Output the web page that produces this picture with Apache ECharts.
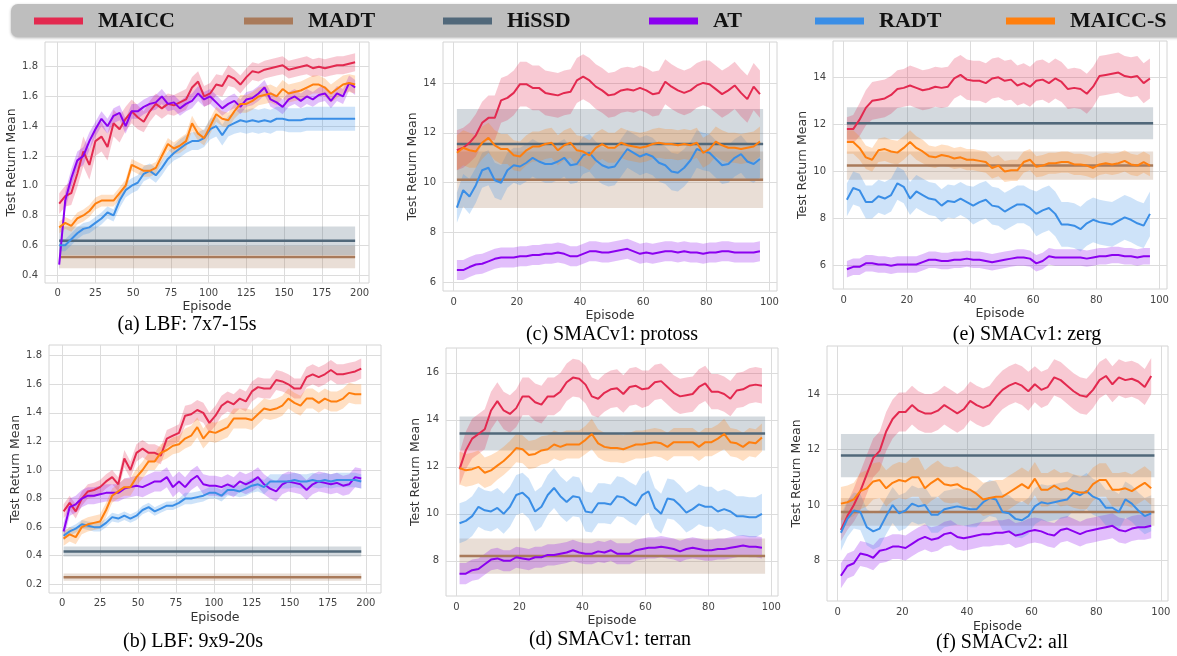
<!DOCTYPE html>
<html>
<head>
<meta charset="utf-8">
<title>MAICC offline results</title>
<script src="https://cdn.jsdelivr.net/npm/echarts@6/dist/echarts.min.js"></script>
<style>
  html, body { margin: 0; padding: 0; background: #fff; }
  #chart { width: 1177px; height: 656px; }
</style>
</head>
<body>
<div id="chart"></div>
<script>
// ---- episodes (x values) ----
const lbfEpisodes = [1, 5, 9, 13, 17, 21, 25, 29, 33, 37,
  41, 45, 49, 53, 57, 61, 65, 69, 73, 77,
  81, 85, 89, 93, 97, 101, 105, 109, 113, 117,
  121, 125, 129, 133, 137, 141, 145, 149, 153, 157,
  161, 165, 169, 173, 177, 181, 185, 189, 193, 197];
const smacEpisodes = [1, 3, 5, 7, 9, 11, 13, 15, 17, 19,
  21, 23, 25, 27, 29, 31, 33, 35, 37, 39,
  41, 43, 45, 47, 49, 51, 53, 55, 57, 59,
  61, 63, 65, 67, 69, 71, 73, 75, 77, 79,
  81, 83, 85, 87, 89, 91, 93, 95, 97];

// ---- tick labels ----
const lbfXTicks = [0, 25, 50, 75, 100, 125, 150, 175, 200];
const smacXTicks = [0, 20, 40, 60, 80, 100];
const lbf7YTicks = [0.4, 0.6, 0.8, 1.0, 1.2, 1.4, 1.6, 1.8];
const lbf9YTicks = [0.2, 0.4, 0.6, 0.8, 1.0, 1.2, 1.4, 1.6, 1.8];
const protossYTicks = [6, 8, 10, 12, 14];
const terranYTicks = [8, 10, 12, 14, 16];
const zergYTicks = [6, 8, 10, 12, 14];
const v2YTicks = [8, 10, 12, 14];

// ---- offline baselines (mean, half band) per panel a..f ----
const madtMean = [0.52, 0.25, 10.12, 8.2, 10.25, 9.75];
const madtSpread = [0.075, 0.025, 1.13, 0.75, 0.6, 0.5];
const hissdMean = [0.63, 0.43, 11.55, 13.42, 12.05, 11.78];
const hissdSpread = [0.095, 0.035, 1.4, 0.72, 0.68, 0.78];
const lbfSpan = [1, 197];
const smacSpan = [1, 98];

// ---- (a) LBF 7x7-15s ----
const lbf7Maicc = [0.88, 0.93, 0.95, 1.08, 1.23, 1.14, 1.30, 1.33, 1.26, 1.42,
  1.38, 1.45, 1.50, 1.46, 1.43, 1.50, 1.55, 1.52, 1.55, 1.54,
  1.56, 1.58, 1.66, 1.70, 1.60, 1.62, 1.68, 1.67, 1.74, 1.72,
  1.68, 1.73, 1.77, 1.76, 1.78, 1.79, 1.80, 1.81, 1.78, 1.79,
  1.80, 1.81, 1.79, 1.80, 1.79, 1.80, 1.81, 1.81, 1.82, 1.83];
const lbf7MaiccSd = [0.07, 0.07, 0.08, 0.09, 0.10, 0.10, 0.10, 0.10, 0.09, 0.09,
  0.09, 0.08, 0.08, 0.08, 0.07, 0.07, 0.07, 0.07, 0.07, 0.07,
  0.07, 0.07, 0.07, 0.07, 0.07, 0.07, 0.07, 0.07, 0.07, 0.06,
  0.06, 0.06, 0.06, 0.06, 0.06, 0.06, 0.06, 0.06, 0.06, 0.06,
  0.06, 0.06, 0.06, 0.06, 0.06, 0.06, 0.06, 0.06, 0.06, 0.06];
const lbf7At = [0.47, 0.90, 1.05, 1.17, 1.20, 1.30, 1.38, 1.45, 1.40, 1.47,
  1.49, 1.40, 1.50, 1.50, 1.53, 1.55, 1.56, 1.60, 1.55, 1.56,
  1.52, 1.55, 1.57, 1.62, 1.58, 1.60, 1.56, 1.52, 1.55, 1.57,
  1.53, 1.58, 1.59, 1.62, 1.66, 1.58, 1.56, 1.53, 1.58, 1.60,
  1.57, 1.60, 1.58, 1.61, 1.62, 1.57, 1.62, 1.60, 1.69, 1.66];
const lbf7AtSd = [0.04, 0.06, 0.06, 0.06, 0.06, 0.06, 0.05, 0.05, 0.05, 0.05,
  0.05, 0.05, 0.05, 0.05, 0.05, 0.05, 0.05, 0.05, 0.05, 0.05,
  0.05, 0.05, 0.05, 0.05, 0.05, 0.05, 0.05, 0.05, 0.05, 0.05,
  0.05, 0.05, 0.05, 0.05, 0.05, 0.05, 0.05, 0.05, 0.05, 0.05,
  0.05, 0.05, 0.05, 0.05, 0.05, 0.05, 0.05, 0.05, 0.05, 0.05];
const lbf7MaiccS = [0.72, 0.75, 0.73, 0.78, 0.80, 0.83, 0.88, 0.90, 0.90, 0.90,
  0.95, 1.00, 1.14, 1.12, 1.10, 1.10, 1.12, 1.20, 1.28, 1.25,
  1.27, 1.30, 1.42, 1.35, 1.32, 1.40, 1.48, 1.45, 1.44, 1.50,
  1.55, 1.55, 1.57, 1.60, 1.61, 1.62, 1.60, 1.65, 1.62, 1.63,
  1.64, 1.66, 1.68, 1.68, 1.66, 1.62, 1.65, 1.68, 1.69, 1.68];
const lbf7MaiccSSd = [0.04, 0.04, 0.04, 0.04, 0.04, 0.04, 0.04, 0.04, 0.04, 0.04,
  0.04, 0.04, 0.04, 0.04, 0.04, 0.04, 0.04, 0.04, 0.04, 0.04,
  0.05, 0.05, 0.05, 0.05, 0.05, 0.05, 0.05, 0.05, 0.05, 0.05,
  0.06, 0.06, 0.06, 0.06, 0.06, 0.06, 0.06, 0.06, 0.06, 0.06,
  0.06, 0.06, 0.06, 0.06, 0.06, 0.06, 0.06, 0.06, 0.06, 0.06];
const lbf7Radt = [0.60, 0.60, 0.64, 0.68, 0.71, 0.72, 0.75, 0.78, 0.82, 0.80,
  0.90, 0.97, 1.00, 1.02, 1.08, 1.10, 1.07, 1.12, 1.18, 1.22,
  1.25, 1.28, 1.30, 1.30, 1.32, 1.38, 1.40, 1.34, 1.40, 1.42,
  1.44, 1.43, 1.44, 1.43, 1.44, 1.43, 1.45, 1.45, 1.44, 1.44,
  1.44, 1.45, 1.45, 1.45, 1.45, 1.45, 1.45, 1.45, 1.45, 1.45];
const lbf7RadtSd = [0.04, 0.04, 0.04, 0.04, 0.04, 0.04, 0.04, 0.04, 0.04, 0.04,
  0.05, 0.05, 0.05, 0.05, 0.05, 0.05, 0.05, 0.05, 0.05, 0.05,
  0.06, 0.06, 0.06, 0.06, 0.06, 0.07, 0.07, 0.07, 0.07, 0.07,
  0.08, 0.08, 0.08, 0.08, 0.08, 0.08, 0.08, 0.08, 0.08, 0.08,
  0.08, 0.08, 0.08, 0.08, 0.08, 0.08, 0.08, 0.08, 0.08, 0.08];

// ---- (b) LBF 9x9-20s ----
const lbf9Maicc = [0.71, 0.77, 0.71, 0.80, 0.85, 0.86, 0.88, 0.92, 0.95, 0.90,
  1.08, 1.00, 1.12, 1.15, 1.12, 1.12, 1.10, 1.22, 1.24, 1.26,
  1.38, 1.39, 1.42, 1.40, 1.33, 1.38, 1.45, 1.48, 1.46, 1.50,
  1.48, 1.55, 1.58, 1.57, 1.57, 1.63, 1.62, 1.60, 1.57, 1.57,
  1.65, 1.67, 1.65, 1.67, 1.70, 1.67, 1.67, 1.68, 1.69, 1.71];
const lbf9MaiccSd = [0.05, 0.05, 0.05, 0.05, 0.05, 0.05, 0.05, 0.05, 0.05, 0.05,
  0.06, 0.06, 0.06, 0.06, 0.06, 0.06, 0.06, 0.06, 0.06, 0.06,
  0.07, 0.07, 0.07, 0.07, 0.07, 0.07, 0.07, 0.07, 0.07, 0.07,
  0.07, 0.07, 0.07, 0.07, 0.07, 0.07, 0.07, 0.07, 0.07, 0.07,
  0.07, 0.07, 0.07, 0.07, 0.07, 0.07, 0.07, 0.07, 0.07, 0.07];
const lbf9At = [0.57, 0.74, 0.76, 0.80, 0.82, 0.82, 0.83, 0.84, 0.84, 0.84,
  0.87, 0.88, 0.89, 0.88, 0.90, 0.92, 0.92, 0.95, 0.88, 0.92,
  0.88, 0.93, 0.96, 0.90, 0.89, 0.89, 0.88, 0.90, 0.88, 0.92,
  0.90, 0.92, 0.95, 0.90, 0.87, 0.85, 0.90, 0.92, 0.91, 0.90,
  0.86, 0.90, 0.92, 0.91, 0.90, 0.91, 0.89, 0.90, 0.95, 0.94];
const lbf9AtSd = [0.06, 0.06, 0.06, 0.06, 0.06, 0.06, 0.06, 0.06, 0.06, 0.06,
  0.07, 0.07, 0.07, 0.07, 0.07, 0.07, 0.07, 0.07, 0.07, 0.07,
  0.07, 0.07, 0.07, 0.07, 0.07, 0.07, 0.07, 0.07, 0.07, 0.07,
  0.07, 0.07, 0.07, 0.07, 0.07, 0.07, 0.07, 0.07, 0.07, 0.07,
  0.07, 0.07, 0.07, 0.07, 0.07, 0.07, 0.07, 0.07, 0.07, 0.07];
const lbf9MaiccS = [0.52, 0.55, 0.53, 0.60, 0.62, 0.63, 0.64, 0.72, 0.82, 0.85,
  0.88, 0.88, 0.95, 1.00, 1.06, 1.06, 1.12, 1.14, 1.17, 1.18,
  1.22, 1.24, 1.30, 1.22, 1.27, 1.26, 1.28, 1.30, 1.36, 1.36,
  1.36, 1.35, 1.39, 1.43, 1.42, 1.43, 1.45, 1.50, 1.47, 1.45,
  1.50, 1.50, 1.47, 1.50, 1.48, 1.48, 1.50, 1.54, 1.53, 1.53];
const lbf9MaiccSSd = [0.05, 0.05, 0.05, 0.05, 0.05, 0.05, 0.05, 0.05, 0.05, 0.05,
  0.06, 0.06, 0.06, 0.06, 0.06, 0.06, 0.06, 0.06, 0.06, 0.06,
  0.07, 0.07, 0.07, 0.07, 0.07, 0.07, 0.07, 0.07, 0.07, 0.07,
  0.07, 0.07, 0.07, 0.07, 0.07, 0.07, 0.07, 0.07, 0.07, 0.07,
  0.07, 0.07, 0.07, 0.07, 0.07, 0.07, 0.07, 0.07, 0.07, 0.07];
const lbf9Radt = [0.54, 0.57, 0.59, 0.62, 0.61, 0.60, 0.60, 0.63, 0.67, 0.66,
  0.68, 0.66, 0.68, 0.72, 0.74, 0.71, 0.73, 0.75, 0.75, 0.77,
  0.80, 0.80, 0.81, 0.82, 0.84, 0.84, 0.82, 0.86, 0.86, 0.85,
  0.87, 0.89, 0.90, 0.88, 0.92, 0.92, 0.92, 0.92, 0.93, 0.92,
  0.92, 0.93, 0.92, 0.93, 0.92, 0.93, 0.93, 0.93, 0.93, 0.92];
const lbf9RadtSd = [0.03, 0.03, 0.03, 0.03, 0.03, 0.03, 0.03, 0.03, 0.03, 0.03,
  0.03, 0.03, 0.03, 0.03, 0.03, 0.03, 0.03, 0.03, 0.03, 0.03,
  0.04, 0.04, 0.04, 0.04, 0.04, 0.04, 0.04, 0.04, 0.04, 0.04,
  0.05, 0.05, 0.05, 0.05, 0.05, 0.05, 0.05, 0.05, 0.05, 0.05,
  0.05, 0.05, 0.05, 0.05, 0.05, 0.05, 0.05, 0.05, 0.05, 0.05];

// ---- (c) SMACv1 protoss ----
const protossMaicc = [11.30, 11.40, 11.60, 11.90, 12.40, 12.60, 12.60, 13.30, 13.40, 13.60,
  13.95, 13.95, 13.80, 13.80, 13.60, 13.55, 13.50, 13.60, 13.65, 14.10,
  14.25, 14.10, 13.85, 13.70, 13.50, 13.55, 13.70, 13.75, 13.70, 13.80,
  13.70, 13.55, 13.60, 14.05, 13.85, 13.70, 13.60, 13.70, 13.90, 14.00,
  13.95, 13.75, 13.55, 13.70, 13.90, 13.60, 13.35, 13.85, 13.55];
const protossMaiccSd = [0.8, 0.8, 0.8, 0.85, 0.85, 0.9, 0.9, 0.9, 0.9, 0.9,
  0.9, 0.9, 0.9, 0.9, 0.9, 0.9, 0.9, 0.9, 0.9, 0.9,
  0.9, 0.9, 0.9, 0.9, 0.9, 0.9, 0.9, 0.9, 0.9, 0.9,
  0.9, 0.9, 0.9, 0.9, 0.9, 0.9, 0.9, 0.9, 0.9, 0.9,
  0.95, 0.95, 0.95, 0.95, 0.95, 0.95, 0.95, 0.95, 0.95];
const protossAt = [6.50, 6.50, 6.62, 6.72, 6.75, 6.85, 6.95, 7.00, 7.00, 7.00,
  7.05, 7.05, 7.10, 7.10, 7.15, 7.15, 7.20, 7.15, 7.05, 7.05,
  7.15, 7.25, 7.25, 7.20, 7.20, 7.25, 7.30, 7.35, 7.25, 7.15,
  7.20, 7.15, 7.20, 7.25, 7.25, 7.20, 7.25, 7.20, 7.20, 7.15,
  7.20, 7.20, 7.25, 7.25, 7.20, 7.20, 7.20, 7.20, 7.25];
const protossAtSd = [0.4, 0.4, 0.4, 0.4, 0.4, 0.4, 0.4, 0.4, 0.4, 0.4,
  0.4, 0.4, 0.4, 0.4, 0.4, 0.4, 0.4, 0.4, 0.4, 0.4,
  0.4, 0.4, 0.4, 0.4, 0.4, 0.4, 0.4, 0.4, 0.4, 0.4,
  0.4, 0.4, 0.4, 0.4, 0.4, 0.4, 0.4, 0.4, 0.4, 0.4,
  0.4, 0.4, 0.4, 0.4, 0.4, 0.4, 0.4, 0.4, 0.4];
const protossMaiccS = [11.20, 11.40, 11.30, 11.25, 11.60, 11.80, 11.50, 11.35, 11.35, 11.10,
  11.05, 11.30, 11.45, 11.45, 11.55, 11.60, 11.30, 11.50, 11.60, 11.30,
  11.25, 11.10, 11.40, 11.55, 11.40, 11.40, 11.60, 11.50, 11.45, 11.40,
  11.45, 11.55, 11.60, 11.55, 11.55, 11.50, 11.55, 11.50, 11.60, 11.20,
  11.35, 11.65, 11.50, 11.40, 11.40, 11.35, 11.40, 11.45, 11.65];
const protossMaiccSSd = [0.7, 0.7, 0.7, 0.65, 0.65, 0.6, 0.6, 0.6, 0.6, 0.6,
  0.6, 0.6, 0.6, 0.6, 0.6, 0.6, 0.6, 0.6, 0.6, 0.6,
  0.6, 0.6, 0.6, 0.6, 0.6, 0.6, 0.6, 0.6, 0.6, 0.6,
  0.6, 0.6, 0.6, 0.6, 0.6, 0.6, 0.6, 0.6, 0.6, 0.6,
  0.6, 0.6, 0.6, 0.6, 0.6, 0.6, 0.6, 0.6, 0.6];
const protossRadt = [9.00, 9.70, 9.45, 9.90, 10.50, 10.60, 10.10, 10.00, 10.50, 10.70,
  10.65, 10.80, 11.00, 10.85, 10.75, 10.75, 10.85, 11.00, 10.70, 10.75,
  11.10, 11.20, 10.90, 10.70, 10.60, 10.65, 11.00, 11.35, 11.20, 11.05,
  11.15, 11.05, 10.80, 10.70, 10.45, 10.40, 10.60, 10.90, 11.35, 11.25,
  11.20, 10.95, 10.70, 10.75, 11.00, 11.15, 10.85, 10.75, 10.95];
const protossRadtSd = [0.6, 0.65, 0.7, 0.7, 0.7, 0.7, 0.7, 0.7, 0.7, 0.7,
  0.75, 0.75, 0.75, 0.75, 0.75, 0.75, 0.75, 0.75, 0.75, 0.75,
  0.75, 0.75, 0.75, 0.75, 0.75, 0.75, 0.75, 0.75, 0.75, 0.75,
  0.75, 0.75, 0.75, 0.75, 0.75, 0.75, 0.75, 0.75, 0.75, 0.75,
  0.75, 0.75, 0.75, 0.75, 0.75, 0.75, 0.75, 0.75, 0.75];

// ---- (d) SMACv1 terran ----
const terranMaicc = [11.90, 12.70, 13.20, 13.40, 13.60, 14.40, 14.80, 14.40, 14.25, 14.50,
  15.00, 15.00, 14.75, 14.65, 15.00, 15.00, 15.20, 15.60, 15.80, 15.75,
  15.50, 15.00, 14.90, 15.15, 15.30, 15.35, 15.10, 15.40, 15.45, 15.30,
  15.35, 15.60, 15.65, 15.40, 15.15, 15.00, 15.05, 15.10, 15.40, 15.55,
  15.20, 15.20, 15.10, 14.90, 15.25, 15.30, 15.45, 15.50, 15.45];
const terranMaiccSd = [0.7, 0.8, 0.85, 0.85, 0.85, 0.8, 0.8, 0.8, 0.8, 0.8,
  0.8, 0.8, 0.8, 0.8, 0.8, 0.8, 0.8, 0.8, 0.8, 0.8,
  0.8, 0.8, 0.8, 0.8, 0.8, 0.8, 0.8, 0.8, 0.8, 0.8,
  0.75, 0.75, 0.75, 0.75, 0.75, 0.75, 0.75, 0.75, 0.75, 0.75,
  0.75, 0.75, 0.75, 0.75, 0.75, 0.75, 0.75, 0.75, 0.75];
const terranAt = [7.45, 7.45, 7.60, 7.65, 7.85, 8.05, 8.10, 8.00, 8.00, 8.15,
  8.10, 8.05, 8.15, 8.15, 8.25, 8.25, 8.30, 8.35, 8.45, 8.35,
  8.30, 8.30, 8.40, 8.35, 8.45, 8.30, 8.30, 8.30, 8.45, 8.50,
  8.55, 8.55, 8.60, 8.55, 8.50, 8.40, 8.50, 8.55, 8.50, 8.45,
  8.45, 8.50, 8.50, 8.55, 8.60, 8.65, 8.60, 8.60, 8.55];
const terranAtSd = [0.45, 0.45, 0.45, 0.45, 0.45, 0.45, 0.45, 0.45, 0.45, 0.45,
  0.45, 0.45, 0.45, 0.45, 0.45, 0.45, 0.45, 0.45, 0.45, 0.45,
  0.45, 0.45, 0.45, 0.45, 0.45, 0.45, 0.45, 0.45, 0.45, 0.45,
  0.45, 0.45, 0.45, 0.45, 0.45, 0.45, 0.45, 0.45, 0.45, 0.45,
  0.45, 0.45, 0.45, 0.45, 0.45, 0.45, 0.45, 0.45, 0.45];
const terranMaiccS = [11.95, 11.85, 11.90, 12.00, 11.75, 11.85, 12.05, 12.25, 12.50, 12.80,
  12.75, 12.50, 12.55, 12.70, 12.75, 12.95, 12.85, 12.95, 12.95, 12.95,
  13.15, 13.40, 13.00, 12.85, 12.80, 12.80, 12.75, 12.85, 12.95, 12.95,
  13.00, 13.05, 13.00, 12.85, 13.05, 13.05, 13.05, 13.05, 12.85, 13.05,
  13.05, 13.20, 13.40, 13.05, 13.00, 12.85, 13.05, 13.00, 13.25];
const terranMaiccSSd = [0.7, 0.7, 0.7, 0.7, 0.65, 0.65, 0.6, 0.6, 0.6, 0.6,
  0.6, 0.6, 0.6, 0.6, 0.6, 0.6, 0.6, 0.6, 0.6, 0.6,
  0.6, 0.65, 0.6, 0.6, 0.6, 0.6, 0.6, 0.6, 0.6, 0.6,
  0.6, 0.6, 0.6, 0.6, 0.6, 0.6, 0.6, 0.6, 0.6, 0.6,
  0.6, 0.6, 0.65, 0.6, 0.6, 0.6, 0.6, 0.6, 0.6];
const terranRadt = [9.60, 9.70, 9.90, 10.30, 10.15, 10.10, 10.25, 10.00, 10.30, 10.80,
  10.90, 10.65, 10.10, 10.30, 10.80, 11.10, 10.75, 10.50, 10.75, 10.70,
  10.10, 10.05, 10.45, 10.45, 10.40, 10.75, 10.70, 10.50, 10.35, 10.80,
  10.95, 10.25, 10.00, 10.65, 10.60, 10.35, 10.05, 10.20, 10.40, 10.30,
  10.30, 10.10, 10.20, 10.10, 9.90, 9.90, 9.85, 9.85, 10.00];
const terranRadtSd = [0.85, 0.85, 0.85, 0.85, 0.85, 0.85, 0.85, 0.85, 0.85, 0.85,
  0.85, 0.85, 0.85, 0.85, 0.85, 0.85, 0.85, 0.85, 0.85, 0.85,
  0.85, 0.85, 0.85, 0.85, 0.85, 0.85, 0.85, 0.85, 0.85, 0.9,
  0.9, 0.85, 0.85, 0.85, 0.85, 0.85, 0.85, 0.85, 0.85, 0.85,
  0.85, 0.85, 0.85, 0.85, 0.85, 0.85, 0.85, 0.85, 0.85];

// ---- (e) SMACv1 zerg ----
const zergMaicc = [11.80, 11.80, 12.20, 12.70, 13.00, 13.05, 13.10, 13.25, 13.50, 13.55,
  13.65, 13.55, 13.45, 13.50, 13.60, 13.55, 13.60, 13.95, 14.10, 13.90,
  13.85, 13.85, 13.75, 13.95, 14.00, 13.85, 13.90, 13.65, 13.75, 13.60,
  13.85, 13.90, 13.75, 13.95, 13.80, 13.50, 13.55, 13.50, 13.30, 13.60,
  14.05, 14.10, 14.15, 14.20, 14.05, 14.00, 14.05, 13.75, 13.95];
const zergMaiccSd = [0.5, 0.6, 0.7, 0.75, 0.8, 0.8, 0.8, 0.8, 0.8, 0.8,
  0.85, 0.85, 0.85, 0.85, 0.85, 0.85, 0.85, 0.85, 0.85, 0.85,
  0.85, 0.85, 0.85, 0.85, 0.85, 0.85, 0.85, 0.85, 0.85, 0.85,
  0.85, 0.85, 0.85, 0.85, 0.85, 0.85, 0.85, 0.85, 0.85, 0.85,
  0.85, 0.85, 0.85, 0.85, 0.85, 0.85, 0.85, 0.85, 0.85];
const zergAt = [5.85, 5.95, 5.95, 6.10, 6.10, 6.05, 6.05, 6.00, 6.05, 6.05,
  6.05, 6.05, 6.15, 6.25, 6.25, 6.20, 6.20, 6.25, 6.25, 6.30,
  6.25, 6.25, 6.20, 6.15, 6.20, 6.25, 6.30, 6.35, 6.35, 6.30,
  6.10, 6.20, 6.40, 6.35, 6.35, 6.35, 6.35, 6.35, 6.30, 6.35,
  6.40, 6.40, 6.45, 6.45, 6.40, 6.40, 6.35, 6.40, 6.40];
const zergAtSd = [0.35, 0.35, 0.35, 0.35, 0.35, 0.35, 0.35, 0.35, 0.35, 0.35,
  0.35, 0.35, 0.35, 0.35, 0.35, 0.35, 0.35, 0.35, 0.35, 0.35,
  0.35, 0.35, 0.35, 0.35, 0.35, 0.35, 0.35, 0.35, 0.35, 0.35,
  0.35, 0.35, 0.35, 0.35, 0.35, 0.35, 0.35, 0.35, 0.35, 0.35,
  0.35, 0.35, 0.35, 0.35, 0.35, 0.35, 0.35, 0.35, 0.35];
const zergMaiccS = [11.25, 11.25, 11.00, 10.60, 10.50, 10.90, 10.95, 10.85, 10.80, 11.00,
  11.25, 11.00, 10.85, 10.65, 10.60, 10.70, 10.65, 10.55, 10.60, 10.50,
  10.50, 10.45, 10.40, 10.15, 10.25, 10.00, 10.05, 10.05, 10.40, 10.50,
  10.20, 10.25, 10.35, 10.35, 10.40, 10.40, 10.30, 10.30, 10.25, 10.15,
  10.30, 10.35, 10.30, 10.35, 10.45, 10.30, 10.25, 10.40, 10.25];
const zergMaiccSSd = [0.5, 0.5, 0.5, 0.5, 0.5, 0.5, 0.5, 0.5, 0.5, 0.5,
  0.5, 0.5, 0.5, 0.45, 0.45, 0.45, 0.45, 0.45, 0.45, 0.45,
  0.45, 0.45, 0.45, 0.45, 0.45, 0.45, 0.45, 0.45, 0.45, 0.45,
  0.45, 0.45, 0.45, 0.45, 0.45, 0.45, 0.45, 0.45, 0.45, 0.45,
  0.45, 0.45, 0.45, 0.45, 0.45, 0.45, 0.45, 0.45, 0.45];
const zergRadt = [8.80, 9.30, 9.20, 8.70, 8.70, 8.95, 8.85, 9.00, 9.50, 9.35,
  8.85, 9.15, 9.00, 8.85, 8.80, 8.55, 8.75, 8.70, 8.85, 8.70,
  8.55, 8.70, 8.80, 8.55, 8.50, 8.30, 8.45, 8.60, 8.60, 8.45,
  8.20, 8.35, 8.45, 8.20, 7.75, 7.75, 7.70, 7.55, 7.80, 7.95,
  7.85, 7.80, 7.75, 7.90, 8.05, 7.95, 7.80, 7.70, 8.20];
const zergRadtSd = [0.7, 0.7, 0.7, 0.7, 0.7, 0.7, 0.7, 0.7, 0.7, 0.7,
  0.7, 0.7, 0.7, 0.7, 0.7, 0.7, 0.7, 0.7, 0.7, 0.7,
  0.8, 0.8, 0.8, 0.8, 0.8, 0.8, 0.8, 0.8, 0.8, 0.8,
  0.95, 0.95, 0.95, 0.95, 0.95, 0.95, 0.95, 0.95, 0.95, 0.95,
  0.95, 0.95, 0.95, 0.95, 0.95, 0.95, 0.95, 0.95, 0.95];

// ---- (f) SMACv2 all ----
const v2Maicc = [9.10, 9.60, 10.00, 10.50, 11.10, 11.70, 11.95, 12.65, 13.10, 13.35,
  13.35, 13.60, 13.40, 13.30, 13.30, 13.40, 13.60, 13.45, 13.30, 13.45,
  13.75, 13.60, 13.50, 13.60, 13.90, 14.15, 14.30, 14.40, 14.30, 14.10,
  14.35, 14.15, 14.25, 14.60, 14.50, 14.30, 14.10, 13.95, 13.90, 14.15,
  14.50, 14.65, 14.35, 14.60, 14.50, 14.55, 14.45, 14.25, 14.65];
const v2MaiccSd = [0.4, 0.5, 0.6, 0.7, 0.7, 0.7, 0.7, 0.7, 0.7, 0.7,
  0.7, 0.7, 0.7, 0.7, 0.7, 0.7, 0.7, 0.7, 0.7, 0.7,
  0.7, 0.7, 0.7, 0.7, 0.7, 0.7, 0.7, 0.7, 0.7, 0.7,
  0.65, 0.65, 0.65, 0.65, 0.65, 0.65, 0.65, 0.65, 0.65, 0.65,
  0.65, 0.65, 0.65, 0.65, 0.65, 0.65, 0.65, 0.65, 0.65];
const v2At = [7.45, 7.80, 7.90, 8.25, 8.20, 8.10, 8.35, 8.40, 8.50, 8.50,
  8.45, 8.60, 8.75, 8.85, 8.75, 8.80, 8.95, 9.00, 8.85, 8.80,
  8.85, 8.90, 8.95, 8.95, 9.00, 9.00, 9.05, 8.90, 8.95, 9.05,
  9.10, 9.05, 8.95, 8.90, 9.10, 9.15, 9.05, 8.95, 9.05, 9.10,
  9.15, 9.20, 9.25, 9.10, 9.05, 9.15, 9.20, 9.20, 9.25];
const v2AtSd = [0.45, 0.45, 0.45, 0.45, 0.45, 0.45, 0.45, 0.45, 0.45, 0.45,
  0.45, 0.45, 0.45, 0.45, 0.45, 0.45, 0.45, 0.45, 0.45, 0.45,
  0.45, 0.45, 0.45, 0.45, 0.45, 0.45, 0.45, 0.45, 0.45, 0.45,
  0.45, 0.45, 0.45, 0.45, 0.45, 0.45, 0.45, 0.45, 0.45, 0.45,
  0.45, 0.45, 0.45, 0.45, 0.45, 0.45, 0.45, 0.45, 0.45];
const v2MaiccS = [10.05, 10.10, 10.20, 10.50, 10.60, 10.85, 10.90, 10.60, 10.80, 10.90,
  10.85, 11.00, 11.00, 10.60, 10.80, 10.95, 10.75, 10.70, 10.75, 10.60,
  10.55, 10.40, 10.20, 10.25, 10.30, 10.30, 10.45, 10.60, 10.75, 10.60,
  10.95, 10.55, 10.55, 10.70, 10.55, 10.60, 10.50, 10.45, 10.45, 10.75,
  10.90, 10.90, 10.55, 10.55, 10.60, 10.50, 10.65, 10.80, 10.60];
const v2MaiccSSd = [0.6, 0.6, 0.6, 0.65, 0.65, 0.65, 0.65, 0.65, 0.65, 0.65,
  0.65, 0.7, 0.7, 0.65, 0.65, 0.65, 0.65, 0.65, 0.65, 0.65,
  0.6, 0.6, 0.6, 0.6, 0.6, 0.6, 0.6, 0.6, 0.6, 0.6,
  0.6, 0.6, 0.6, 0.6, 0.6, 0.6, 0.6, 0.6, 0.6, 0.6,
  0.6, 0.6, 0.6, 0.6, 0.6, 0.6, 0.6, 0.6, 0.6];
const v2Radt = [9.00, 9.50, 9.80, 9.75, 9.20, 9.05, 9.15, 9.60, 10.00, 9.70,
  9.80, 10.05, 9.95, 10.00, 9.65, 9.65, 9.85, 9.90, 9.95, 9.90,
  9.85, 9.85, 10.10, 10.25, 10.20, 9.75, 9.70, 9.50, 9.45, 9.60,
  9.95, 10.10, 10.05, 10.10, 10.15, 10.20, 10.45, 10.35, 10.50, 10.30,
  10.20, 9.90, 9.90, 9.75, 10.20, 10.05, 9.80, 9.60, 9.70];
const v2RadtSd = [0.65, 0.65, 0.65, 0.65, 0.65, 0.65, 0.65, 0.65, 0.65, 0.65,
  0.65, 0.65, 0.65, 0.65, 0.65, 0.65, 0.65, 0.65, 0.65, 0.65,
  0.65, 0.65, 0.65, 0.65, 0.65, 0.65, 0.65, 0.65, 0.65, 0.65,
  0.65, 0.65, 0.65, 0.65, 0.65, 0.65, 0.65, 0.65, 0.65, 0.65,
  0.65, 0.65, 0.65, 0.65, 0.65, 0.65, 0.65, 0.65, 0.65];

// ---- styling ----
const methodNames = ["MAICC", "MADT", "HiSSD", "AT", "RADT", "MAICC-S"];
const methodColors = {
  MAICC: "#e3294f",
  MADT: "#a97a5a",
  HiSSD: "#51687a",
  AT: "#8b00f0",
  RADT: "#3a8ee6",
  "MAICC-S": "#ff7f0e",
};
const tickFont = "DejaVu Sans";
const captionFont = "Liberation Serif";

// 面板数据
const panels = [
  {
    caption: "(a) LBF: 7x7-15s", episodes: lbfEpisodes, span: lbfSpan,
    xTicks: lbfXTicks, yTicks: lbf7YTicks, decimals: 1,
    curves: { MAICC: [lbf7Maicc, lbf7MaiccSd], AT: [lbf7At, lbf7AtSd], RADT: [lbf7Radt, lbf7RadtSd], "MAICC-S": [lbf7MaiccS, lbf7MaiccSSd] },
  },
  {
    caption: "(b) LBF: 9x9-20s", episodes: lbfEpisodes, span: lbfSpan,
    xTicks: lbfXTicks, yTicks: lbf9YTicks, decimals: 1,
    curves: { MAICC: [lbf9Maicc, lbf9MaiccSd], AT: [lbf9At, lbf9AtSd], RADT: [lbf9Radt, lbf9RadtSd], "MAICC-S": [lbf9MaiccS, lbf9MaiccSSd] },
  },
  {
    caption: "(c) SMACv1: protoss", episodes: smacEpisodes, span: smacSpan,
    xTicks: smacXTicks, yTicks: protossYTicks, decimals: 0,
    curves: { MAICC: [protossMaicc, protossMaiccSd], AT: [protossAt, protossAtSd], RADT: [protossRadt, protossRadtSd], "MAICC-S": [protossMaiccS, protossMaiccSSd] },
  },
  {
    caption: "(d) SMACv1: terran", episodes: smacEpisodes, span: smacSpan,
    xTicks: smacXTicks, yTicks: terranYTicks, decimals: 0,
    curves: { MAICC: [terranMaicc, terranMaiccSd], AT: [terranAt, terranAtSd], RADT: [terranRadt, terranRadtSd], "MAICC-S": [terranMaiccS, terranMaiccSSd] },
  },
  {
    caption: "(e) SMACv1: zerg", episodes: smacEpisodes, span: smacSpan,
    xTicks: smacXTicks, yTicks: zergYTicks, decimals: 0,
    curves: { MAICC: [zergMaicc, zergMaiccSd], AT: [zergAt, zergAtSd], RADT: [zergRadt, zergRadtSd], "MAICC-S": [zergMaiccS, zergMaiccSSd] },
  },
  {
    caption: "(f) SMACv2: all", episodes: smacEpisodes, span: smacSpan,
    xTicks: smacXTicks, yTicks: v2YTicks, decimals: 0,
    curves: { MAICC: [v2Maicc, v2MaiccSd], AT: [v2At, v2AtSd], RADT: [v2Radt, v2RadtSd], "MAICC-S": [v2MaiccS, v2MaiccSSd] },
  },
];

// 布局 (像素)
const layout = [
  { grid: [45, 42, 324, 241], x: [-8.4, 206.2], y: [0.346, 1.966], yGap: 26, xGap: 17.5, xMargin: 5, cap: [187, 325] },
  { grid: [49, 345, 332, 248], x: [-8.6, 210], y: [0.139, 1.875], yGap: 25, xGap: 18.5, xMargin: 5, cap: [193, 642] },
  { grid: [443, 42, 334, 249], x: [-3.4, 102.4], y: [5.66, 15.64], yGap: 23, xGap: 18.5, xMargin: 6, cap: [612, 335] },
  { grid: [446, 348, 332, 248], x: [-3.3, 102.1], y: [6.5, 17.06], yGap: 22, xGap: 18.5, xMargin: 6, cap: [610, 640] },
  { grid: [833, 41, 334, 248], x: [-3.4, 102.4], y: [5.01, 15.54], yGap: 24, xGap: 18.5, xMargin: 6, cap: [1027, 335] },
  { grid: [827, 346, 341, 255], x: [-3.3, 102.2], y: [6.54, 15.73], yGap: 23, xGap: 19.5, xMargin: 6, cap: [1002, 643] },
];
const legendLeft = [34, 244, 443, 649, 815, 1006];

// 置信带 (多边形)
const bandSeries = (idx, xs, mean, sd, color) => ({
  type: "custom",
  xAxisIndex: idx,
  yAxisIndex: idx,
  silent: true,
  z: 1,
  data: xs.map((x, k) => [x, mean[k] - sd[k], mean[k] + sd[k]]),
  encode: { x: 0, y: [1, 2] },
  renderItem: (params, api) => {
    if (params.dataIndexInside !== 0) return null;
    const n = params.dataInsideLength;
    const upper = [];
    const lower = [];
    for (let k = 0; k < n; k++) {
      upper.push(api.coord([api.value(0, k), api.value(2, k)]));
      lower.unshift(api.coord([api.value(0, k), api.value(1, k)]));
    }
    return {
      type: "polygon",
      shape: { points: upper.concat(lower) },
      style: { fill: color, opacity: 0.25 },
    };
  },
});

const lineSeries = (idx, name, xs, mean, width, z) => ({
  type: "line",
  name: name,
  xAxisIndex: idx,
  yAxisIndex: idx,
  data: xs.map((x, k) => [x, mean[k]]),
  showSymbol: false,
  symbol: "none",
  z: z,
  itemStyle: { color: methodColors[name] },
  lineStyle: { color: methodColors[name], width: width },
  emphasis: { disabled: true },
});

const series = [];
panels.forEach((p, i) => {
  [["MADT", madtMean, madtSpread], ["HiSSD", hissdMean, hissdSpread]].forEach(([name, mean, sd]) => {
    const m = [mean[i], mean[i]];
    const s = [sd[i], sd[i]];
    series.push(bandSeries(i, p.span, m, s, methodColors[name]));
    series.push(lineSeries(i, name, p.span, m, 2.5, 2));
  });
  ["MAICC", "AT", "RADT", "MAICC-S"].forEach((name) => {
    const [mean, sd] = p.curves[name];
    series.push(bandSeries(i, p.episodes, mean, sd, methodColors[name]));
    series.push(lineSeries(i, name, p.episodes, mean, 2, 3));
  });
});

const axisNameStyle = { fontFamily: tickFont, fontSize: 12.5, color: "#333" };
const gridLineStyle = { color: "#dcdcdc", width: 1 };

const option = {
  animation: false,
  backgroundColor: "#fff",
  grid: layout.map((l) => ({
    left: l.grid[0],
    top: l.grid[1],
    width: l.grid[2],
    height: l.grid[3],
    show: true,
    backgroundColor: "#fff",
    borderColor: "#d4d4d4",
    borderWidth: 1,
    outerBoundsMode: "none",
  })),
  xAxis: layout.map((l, i) => ({
    type: "value",
    gridIndex: i,
    min: l.x[0],
    max: l.x[1],
    name: "Episode",
    nameLocation: "middle",
    nameGap: l.xGap,
    nameTextStyle: axisNameStyle,
    axisLine: { show: false },
    axisTick: { show: false, customValues: panels[i].xTicks },
    axisLabel: {
      customValues: panels[i].xTicks,
      margin: l.xMargin,
      fontFamily: tickFont,
      fontSize: 10,
      color: "#444",
    },
    splitLine: { show: true, lineStyle: gridLineStyle },
  })),
  yAxis: layout.map((l, i) => ({
    type: "value",
    gridIndex: i,
    min: l.y[0],
    max: l.y[1],
    name: "Test Return Mean",
    nameLocation: "middle",
    nameGap: l.yGap,
    nameTextStyle: axisNameStyle,
    axisLine: { show: false },
    axisTick: { show: false, customValues: panels[i].yTicks },
    axisLabel: {
      customValues: panels[i].yTicks,
      margin: 7,
      fontFamily: tickFont,
      fontSize: 10,
      color: "#444",
      formatter: (v) => v.toFixed(panels[i].decimals),
    },
    splitLine: { show: true, lineStyle: gridLineStyle },
  })),
  legend: methodNames.map((name, i) => ({
    data: [name],
    left: legendLeft[i],
    top: 10,
    padding: 0,
    icon: "rect",
    itemWidth: 49,
    itemHeight: 7,
    selectedMode: false,
    textStyle: {
      fontFamily: captionFont,
      fontWeight: "bold",
      fontSize: 22,
      color: "#111",
      padding: [0, 0, 0, 10],
    },
  })),
  graphic: [
    {
      type: "rect",
      z: -1,
      shape: { x: 11, y: 4, width: 1180, height: 33, r: 7 },
      style: {
        fill: "#bebebe",
        shadowBlur: 3,
        shadowOffsetY: 1,
        shadowColor: "rgba(0,0,0,0.3)",
      },
    },
  ].concat(
    layout.map((l, i) => ({
      type: "text",
      x: l.cap[0],
      y: l.cap[1],
      style: {
        text: panels[i].caption,
        font: "20px " + captionFont,
        fill: "#000",
        align: "center",
        verticalAlign: "middle",
        textAlign: "center",
        textVerticalAlign: "middle",
      },
    }))
  ),
  series: series,
};

const chart = echarts.init(document.getElementById("chart"));
chart.setOption(option);
</script>
</body>
</html>
